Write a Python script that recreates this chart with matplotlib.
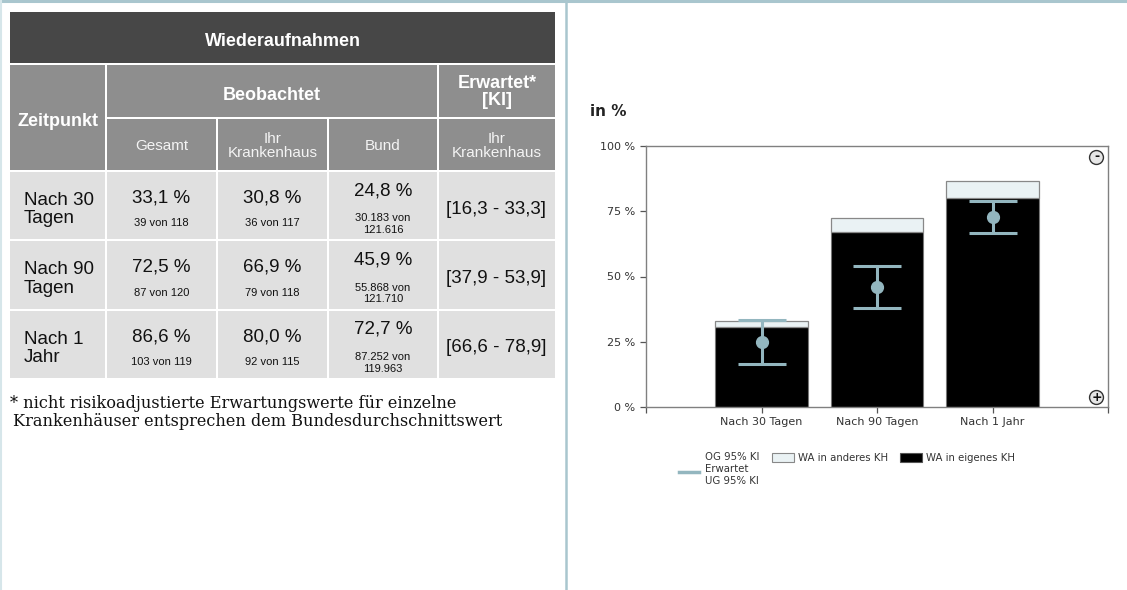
import matplotlib
matplotlib.use("Agg")
import matplotlib.pyplot as plt
from matplotlib.patches import Rectangle

# Daten
categories = ["Nach 30 Tagen", "Nach 90 Tagen", "Nach 1 Jahr"]
row_labels = ["Nach 30\nTagen", "Nach 90\nTagen", "Nach 1\nJahr"]
gesamt = [33.1, 72.5, 86.6]
gesamt_n = ["39 von 118", "87 von 120", "103 von 119"]
eigenes = [30.8, 66.9, 80.0]
eigenes_n = ["36 von 117", "79 von 118", "92 von 115"]
bund = [24.8, 45.9, 72.7]
bund_n = ["30.183 von\n121.616", "55.868 von\n121.710", "87.252 von\n119.963"]
ki_low = [16.3, 37.9, 66.6]
ki_high = [33.3, 53.9, 78.9]
y_ticks = [0, 25, 50, 75, 100]

NARROW = ["Liberation Sans Narrow", "Liberation Sans", "DejaVu Sans"]
SERIF = ["DejaVu Serif", "Liberation Serif"]

DARK = "#474747"
GREY = "#8e8e8e"
LIGHT = "#e0e0e0"
BLUE = "#93b6bf"


def fmt(v):
    return f"{v:.1f}".replace(".", ",") + " %"


fig = plt.figure(figsize=(11.27, 5.90), dpi=100)
fig.patch.set_facecolor("white")

# Hintergrund-Achse in Pixelkoordinaten
bg = fig.add_axes([0, 0, 1, 1])
bg.set_xlim(0, 1127)
bg.set_ylim(590, 0)
bg.axis("off")

# Rahmenlinien
bg.plot([0, 1127], [1, 1], color="#a9c6ce", lw=2.2)
bg.plot([566, 566], [0, 590], color="#a9c6ce", lw=1.8)
bg.plot([0.5, 0.5], [0, 590], color="#d6e6ea", lw=1.5)

# Tabelle
cols = [10, 106, 217, 328, 438, 555]
GAP = 1


def cell(x0, y0, x1, y1, color):
    bg.add_patch(Rectangle((x0 + GAP, y0 + GAP), x1 - x0 - 2 * GAP, y1 - y0 - 2 * GAP,
                           facecolor=color, edgecolor="none"))


cell(cols[0] - GAP, 12 - GAP, cols[5] + GAP, 64, DARK)
cell(cols[0] - GAP, 64, cols[1], 171, GREY)
cell(cols[1], 64, cols[4], 118, GREY)
cell(cols[4], 64, cols[5] + GAP, 118, GREY)
for i in range(1, 5):
    cell(cols[i], 118, cols[i + 1] + (GAP if i == 4 else 0), 171, GREY)

row_edges = [171, 240, 310, 379]
for r in range(3):
    for c in range(5):
        x0 = cols[c] - (GAP if c == 0 else 0)
        x1 = cols[c + 1] + (GAP if c == 4 else 0)
        cell(x0, row_edges[r], x1, row_edges[r + 1], LIGHT)

bg.text(283, 42, "Wiederaufnahmen", ha="center", va="center", color="white",
        fontsize=13, fontweight="bold", family=NARROW)
bg.text(58, 122, "Zeitpunkt", ha="center", va="center", color="white",
        fontsize=13, fontweight="bold", family=NARROW)
bg.text(272, 95, "Beobachtet", ha="center", va="center", color="white",
        fontsize=13, fontweight="bold", family=NARROW)
bg.text(497, 92, "Erwartet*\n[KI]", ha="center", va="center", color="white",
        fontsize=13, fontweight="bold", family=NARROW, linespacing=0.95)
sub_heads = ["Gesamt", "Ihr\nKrankenhaus", "Bund", "Ihr\nKrankenhaus"]
for i, s in enumerate(sub_heads):
    bg.text((cols[i + 1] + cols[i + 2]) / 2, 146, s, ha="center", va="center",
            color="#f4f4f4", fontsize=11, family=NARROW, linespacing=1.0)

for r in range(3):
    yc = (row_edges[r] + row_edges[r + 1]) / 2
    bg.text(24, yc + 4, row_labels[r], ha="left", va="center", fontsize=13.5,
            family=NARROW, color="#111111", linespacing=1.12)
    for c, (vals, ns) in enumerate([(gesamt, gesamt_n), (eigenes, eigenes_n)]):
        xc = (cols[c + 1] + cols[c + 2]) / 2
        bg.text(xc, yc - 7.5, fmt(vals[r]), ha="center", va="center", fontsize=13.5,
                family=NARROW, color="#111111")
        bg.text(xc, yc + 17.5, ns[r], ha="center", va="center", fontsize=8,
                family=NARROW, color="#111111")
    xc = (cols[3] + cols[4]) / 2
    bg.text(xc, yc - 15, fmt(bund[r]), ha="center", va="center", fontsize=13.5,
            family=NARROW, color="#111111")
    bg.text(xc, yc + 18.5, bund_n[r], ha="center", va="center", fontsize=8,
            family=NARROW, color="#111111", linespacing=1.22)
    xc = (cols[4] + cols[5]) / 2
    ki = "[" + f"{ki_low[r]:.1f}".replace(".", ",") + " - " + \
        f"{ki_high[r]:.1f}".replace(".", ",") + "]"
    bg.text(xc, yc + 3.5, ki, ha="center", va="center", fontsize=13.5,
            family=NARROW, color="#111111")

bg.text(10, 403, "* nicht risikoadjustierte Erwartungswerte für einzelne",
        ha="left", va="center", fontsize=11.6, family=SERIF, color="#111111")
bg.text(13, 421, "Krankenhäuser entsprechen dem Bundesdurchschnittswert",
        ha="left", va="center", fontsize=11.6, family=SERIF, color="#111111")

# Diagramm
ax = fig.add_axes([646 / 1127, 1 - 407 / 590, (1108 - 646) / 1127, (407 - 146) / 590])
x = [1, 2, 3]
andere = [g - e for g, e in zip(gesamt, eigenes)]
ax.bar(x, eigenes, width=0.8, color="black", edgecolor="#777777", linewidth=0.8, zorder=2)
ax.bar(x, andere, bottom=eigenes, width=0.8, color="#eaf2f4", edgecolor="#888888",
       linewidth=0.9, zorder=2)
ax.errorbar(x, bund, yerr=[[b - lo for b, lo in zip(bund, ki_low)],
                           [hi - b for b, hi in zip(bund, ki_high)]],
            fmt="o", color=BLUE, ecolor=BLUE, elinewidth=2.2, capsize=17, capthick=2.2,
            markersize=8.5, zorder=3)
ax.set_xlim(0, 4)
ax.set_ylim(0, 100)
ax.set_yticks(y_ticks)
ax.set_yticklabels([f"{t} %" for t in y_ticks])
ax.set_xticks(x)
ax.set_xticklabels(categories)
ax.set_xticks([0, 4], minor=True)
ax.tick_params(which="both", direction="out", length=4, color="#555555",
               labelsize=8, labelcolor="#333333", width=0.9)
for s in ax.spines.values():
    s.set_color("#808080")
    s.set_linewidth(1.0)
for lab in ax.get_xticklabels() + ax.get_yticklabels():
    lab.set_family("DejaVu Sans")

# Zoom-Symbole
for yv, sym in [(95.8, "-"), (3.8, "+")]:
    ax.plot(3.9, yv, "o", markersize=10, markerfacecolor="#e6e6e6",
            markeredgecolor="#333333", markeredgewidth=1.0, clip_on=False, zorder=5)
    ax.text(3.9, yv, sym, ha="center", va="center", fontsize=9, fontweight="bold",
            color="#111111", zorder=6)

fig.text(590 / 1127, 1 - 111 / 590, "in %", ha="left", va="center", fontsize=11,
         fontweight="bold", color="#222222")

# Legende
bg.plot([679, 699], [472, 472], color=BLUE, lw=2.5)
bg.text(705, 457, "OG 95% KI", fontsize=7.3, va="center", color="#333333")
bg.text(705, 469, "Erwartet", fontsize=7.3, va="center", color="#333333")
bg.text(705, 481, "UG 95% KI", fontsize=7.3, va="center", color="#333333")
bg.add_patch(Rectangle((772, 453), 22, 9, facecolor="#eaf2f4", edgecolor="#888888", lw=0.8))
bg.text(798, 458, "WA in anderes KH", fontsize=7.3, va="center", color="#333333")
bg.add_patch(Rectangle((900, 453), 22, 9, facecolor="black", edgecolor="#555555", lw=0.8))
bg.text(926, 458, "WA in eigenes KH", fontsize=7.3, va="center", color="#333333")

fig.savefig("out.png", dpi=100, facecolor="white")
